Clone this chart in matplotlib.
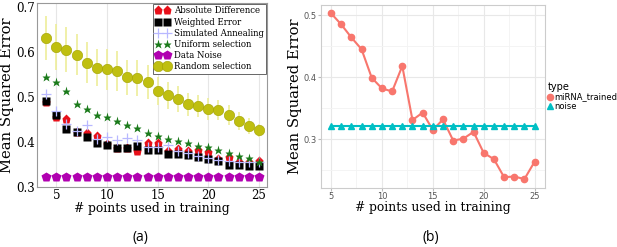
import numpy as np
import matplotlib
matplotlib.use("Agg")
import matplotlib.pyplot as plt

# ---- panel (a) data ----
n_a = list(range(4, 26))
abs_diff = [0.49, 0.456, 0.452, 0.423, 0.420, 0.413, 0.395, 0.387, 0.387, 0.380, 0.398,
            0.398, 0.380, 0.385, 0.380, 0.383, 0.377, 0.362, 0.366, 0.355, 0.355, 0.357]
weighted = [0.492, 0.461, 0.430, 0.423, 0.412, 0.399, 0.394, 0.387, 0.387, 0.391, 0.382,
            0.382, 0.374, 0.374, 0.371, 0.366, 0.362, 0.357, 0.350, 0.348, 0.347, 0.347]
annealing = [0.507, 0.470, 0.440, 0.425, 0.437, 0.408, 0.412, 0.404, 0.409, 0.404, 0.390,
             0.390, 0.394, 0.380, 0.375, 0.370, 0.365, 0.360, 0.357, 0.355, 0.355, 0.355]
uniform = [0.544, 0.533, 0.513, 0.484, 0.474, 0.461, 0.457, 0.446, 0.438, 0.431, 0.420,
           0.413, 0.408, 0.402, 0.397, 0.392, 0.388, 0.383, 0.376, 0.370, 0.365, 0.356]
data_noise = [0.322] * 22
random_sel = [0.632, 0.612, 0.606, 0.595, 0.577, 0.566, 0.562, 0.559, 0.544, 0.542, 0.534,
              0.514, 0.504, 0.496, 0.484, 0.481, 0.474, 0.472, 0.461, 0.447, 0.435, 0.426]
random_err = [0.050, 0.052, 0.050, 0.045, 0.045, 0.042, 0.045, 0.045, 0.040, 0.040, 0.038,
              0.032, 0.030, 0.028, 0.025, 0.025, 0.025, 0.022, 0.022, 0.020, 0.018, 0.015]

# ---- panel (b) data ----
n_b = list(range(5, 26))
mirna = [0.503, 0.485, 0.464, 0.445, 0.399, 0.382, 0.377, 0.418, 0.331, 0.343, 0.315,
         0.332, 0.298, 0.301, 0.312, 0.278, 0.268, 0.239, 0.240, 0.236, 0.264]
noise = [0.321] * 21

fig = plt.figure(figsize=(6.17, 2.47), dpi=100)
serif = "DejaVu Serif"

# ---------------- (a) ----------------
ax = fig.add_axes([0.060, 0.243, 0.373, 0.745])
ax.errorbar(n_a, random_sel, yerr=random_err, fmt="none", ecolor="#eeee99", elinewidth=1.2, zorder=1)
ax.plot(n_a, abs_diff, "p", color="#e8101a", ms=6.5, mec="none", label="Absolute Difference", zorder=2)
ax.plot(n_a, weighted, "s", color="black", ms=6.3, mec="none", label="Weighted Error", zorder=3)
ax.plot(n_a, annealing, "+", color="#b8b8ff", ms=7, mew=0.9, label="Simulated Annealing", zorder=4)
ax.plot(n_a, uniform, "*", color="#1a7a1a", ms=6.5, mec="none", label="Uniform selection", zorder=5)
ax.plot(n_a, data_noise, "p", color="#b000b0", ms=7, mec="none", label="Data Noise", zorder=5)
ax.plot(n_a, random_sel, "o", color="#bfbf10", ms=7.5, mec="#a0a000", mew=0.4, label="Random selection", zorder=6)
ax.set_xlim(3.1, 25.8)
ax.set_ylim(0.3, 0.71)
ax.set_xticks([5, 10, 15, 20, 25])
ax.set_yticks([0.3, 0.4, 0.5, 0.6, 0.7])
ax.set_yticklabels(["0.3", "0.4", "0.5", "0.6", "0.7"])
ax.grid(axis="x", color="#e6e6e6", lw=0.8)
ax.set_axisbelow(True)
ax.tick_params(length=0, pad=1.5, labelsize=8.5)
for lab in ax.get_xticklabels() + ax.get_yticklabels():
    lab.set_family(serif)
for sp in ax.spines.values():
    sp.set_color("#999999")
ax.set_xlabel("# points used in training", family=serif, fontsize=8.8, labelpad=0)
ax.set_ylabel("Mean Squared Error", family=serif, fontsize=10.6, labelpad=1.5)
leg = ax.legend(loc="upper right", numpoints=2, prop={"family": serif, "size": 6.2},
                borderpad=0.3, labelspacing=0.25, handlelength=1.6, handletextpad=0.5,
                borderaxespad=0.1, fancybox=False, framealpha=1)
leg.get_frame().set_edgecolor("#666666")
leg.get_frame().set_linewidth(0.7)

# ---------------- (b) ----------------
bx = fig.add_axes([0.520, 0.239, 0.363, 0.741])
bx.plot(n_b, mirna, "-o", color="#F8766D", lw=1.5, ms=4.5, label="miRNA_trained", zorder=3)
bx.plot(n_b, noise, "-^", color="#00BFC4", lw=1.5, ms=5, label="noise", zorder=3)
bx.set_xlim(4.0, 26.0)
bx.set_ylim(0.2216, 0.5164)
bx.set_xticks([5, 10, 15, 20, 25])
bx.set_yticks([0.3, 0.4, 0.5])
bx.set_xticks([7.5, 12.5, 17.5, 22.5], minor=True)
bx.set_yticks([0.25, 0.35, 0.45], minor=True)
bx.grid(which="major", color="#e8e8e8", lw=0.8)
bx.grid(which="minor", color="#f3f3f3", lw=0.6)
bx.set_axisbelow(True)
bx.tick_params(which="both", length=2, color="#bbbbbb", labelsize=6, labelcolor="#555555", pad=1)
bx.tick_params(which="minor", length=0)
for sp in bx.spines.values():
    sp.set_color("#cccccc")
bx.set_xlabel("# points used in training", family=serif, fontsize=8.8, labelpad=0)
bx.set_ylabel("Mean Squared Error", family=serif, fontsize=10.6, labelpad=1)
leg2 = bx.legend(title="type", loc="center left", bbox_to_anchor=(0.985, 0.50), frameon=False,
                 prop={"size": 6}, title_fontsize=7, handlelength=0.7, handletextpad=0.15,
                 labelspacing=0.02, borderpad=0.2)
leg2._legend_box.align = "left"
for h in leg2.legend_handles:
    h.set_linestyle("none")

# captions
fig.text(0.228, 0.038, "(a)", ha="center", va="center", fontsize=10, family="Open Sans")
fig.text(0.699, 0.038, "(b)", ha="center", va="center", fontsize=10, family="Open Sans")

fig.savefig("out.png", dpi=100)
